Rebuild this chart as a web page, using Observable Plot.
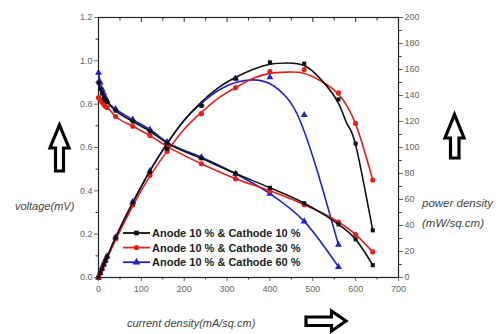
<!DOCTYPE html>
<html>
<head>
<meta charset="utf-8">
<script src="https://cdn.jsdelivr.net/npm/d3@7"></script>
<script src="https://cdn.jsdelivr.net/npm/@observablehq/plot@0.6"></script>
<style>
  html, body { margin: 0; padding: 0; background: #fff; }
  #chart { width: 501px; height: 334px; overflow: hidden; }
</style>
</head>
<body>
<div id="chart"></div>
<script>
// ---- data ----
const seriesNames = ["Anode 10 % & Cathode 10 %", "Anode 10 % & Cathode 30 %", "Anode 10 % & Cathode 60 %"];
const seriesColors = ["#111111", "#e3201b", "#2323c8"];
const seriesSymbols = ["square", "circle", "triangle"];

const currentDensity = [0, 4, 8, 12, 16, 20, 40, 80, 120, 160, 240, 320, 400, 480, 560, 600, 640];
const currentDensityBlue = [0, 4, 8, 12, 16, 20, 40, 80, 120, 160, 240, 320, 400, 480, 560];

const voltageBlack = [0.90, 0.87, 0.85, 0.83, 0.82, 0.81, 0.77, 0.72, 0.675, 0.62, 0.55, 0.48, 0.414, 0.343, 0.245, 0.176, 0.057];
const voltageRed   = [0.83, 0.82, 0.81, 0.80, 0.79, 0.785, 0.743, 0.698, 0.655, 0.605, 0.525, 0.456, 0.40, 0.336, 0.256, 0.198, 0.118];
const voltageBlue  = [0.945, 0.90, 0.87, 0.85, 0.83, 0.815, 0.778, 0.729, 0.683, 0.625, 0.555, 0.479, 0.387, 0.259, 0.049];

const powerBlack = [0, 3.5, 6.8, 10, 13, 16.2, 30.8, 57.6, 81, 99, 132, 153, 165.5, 164.5, 137, 103, 36.3];
const powerRed   = [0, 3.3, 6.5, 9.6, 12.6, 15.7, 29.7, 55.8, 78.6, 97, 126, 146, 158.3, 160, 142, 118.5, 75];
const powerBlue  = [0, 3.7, 7, 10.2, 13.3, 16.3, 31, 58.3, 82, 100, 133, 153, 154, 125, 25.3];

// fitted power curves
const fitCurrentBlack = [0, 40, 80, 120, 160, 200, 240, 280, 320, 360, 400, 440, 480, 520, 560, 580, 600, 640];
const fitPowerBlack   = [0, 31, 58, 82, 103, 121, 135, 146, 154, 160, 164, 165, 163, 152, 134, 118, 102, 36];
const fitCurrentRed   = [0, 40, 80, 120, 160, 200, 240, 280, 320, 360, 400, 440, 480, 520, 560, 600, 640];
const fitPowerRed     = [0, 29, 55, 78, 97, 114, 127, 138, 146, 153, 157, 158, 157, 151, 141, 118, 75];
const fitCurrentBlue  = [0, 40, 80, 120, 160, 200, 240, 280, 320, 360, 400, 440, 470, 500, 530, 560];
const fitPowerBlue    = [0, 30, 57, 82, 103, 121, 134, 144, 150, 152, 149, 138, 121, 93, 60, 25];

const xTicks = [0, 100, 200, 300, 400, 500, 600, 700];
const xMinor = [50, 150, 250, 350, 450, 550, 650];
const yTicks = [0, 0.2, 0.4, 0.6, 0.8, 1.0, 1.2];
const yMinor = [0.1, 0.3, 0.5, 0.7, 0.9, 1.1];
const pTicks = [0, 20, 40, 60, 80, 100, 120, 140, 160, 180, 200];
const pMinor = [10, 30, 50, 70, 90, 110, 130, 150, 170, 190];

// ---- tables ----
const pToY = 1.2 / 200; // right axis (0–200) shares the frame with left axis (0–1.2)
const voltageSets = [voltageBlack, voltageRed, voltageBlue];
const powerSets = [powerBlack, powerRed, powerBlue];
const currentSets = [currentDensity, currentDensity, currentDensityBlue];
const fitSets = [[fitCurrentBlack, fitPowerBlack], [fitCurrentRed, fitPowerRed], [fitCurrentBlue, fitPowerBlue]];

const vRows = [], pRows = [], fRows = [];
seriesNames.forEach((s, i) => {
  currentSets[i].forEach((c, j) => {
    vRows.push({s, i, c, v: voltageSets[i][j]});
    pRows.push({s, i, c, p: powerSets[i][j]});
  });
  fitSets[i][0].forEach((c, j) => fRows.push({s, i, c, p: fitSets[i][1][j]}));
});

const symR = {square: 2.3, circle: 2.6, triangle: 2.6};
const order = [2, 1, 0];
const marks = [];
for (const i of order) {
  const col = seriesColors[i];
  const sym = seriesSymbols[i];
  const vr = vRows.filter(d => d.i === i);
  const pr = pRows.filter(d => d.i === i);
  const fr = fRows.filter(d => d.i === i);
  marks.push(Plot.line(vr, {x: "c", y: "v", stroke: col, strokeWidth: 1.6, curve: "monotone-x"}));
  marks.push(Plot.line(fr, {x: "c", y: d => d.p * pToY, stroke: col, strokeWidth: 1.6, curve: "natural"}));
  marks.push(Plot.dot(vr, {x: "c", y: "v", fill: col, stroke: "none", symbol: sym, r: symR[sym]}));
  marks.push(Plot.dot(pr, {x: "c", y: d => d.p * pToY, fill: col, stroke: "none", symbol: sym, r: symR[sym]}));
}

const chart = Plot.plot({
  width: 501,
  height: 334,
  marginLeft: 98,
  marginRight: 103,
  marginTop: 17,
  marginBottom: 57,
  x: {domain: [0, 700]},
  y: {domain: [0, 1.2]},
  style: {fontFamily: "'Liberation Sans', Arial, sans-serif", fontSize: "9px", color: "#333", background: "#fff", overflow: "visible"},
  marks: [
    Plot.axisX(xTicks, {anchor: "bottom", tickSize: 4, tickPadding: 4, label: null, color: "#666", fontSize: 9}),
    Plot.axisX(xMinor, {anchor: "bottom", tickSize: 2.5, tickFormat: () => "", label: null}),
    Plot.axisX(xTicks, {anchor: "top", tickSize: -4, tickFormat: () => "", label: null}),
    Plot.axisX(xMinor, {anchor: "top", tickSize: -2.5, tickFormat: () => "", label: null}),
    Plot.axisY(yTicks, {anchor: "left", tickSize: 4, tickPadding: 2, tickFormat: d3.format(".1f"), label: null, color: "#666", fontSize: 9}),
    Plot.axisY(yMinor, {anchor: "left", tickSize: 2.5, tickFormat: () => "", label: null}),
    Plot.axisY(pTicks.map(p => p * pToY), {anchor: "right", tickSize: 4, tickPadding: 2, tickFormat: d => String(Math.round(d / pToY)), label: null, color: "#666", fontSize: 9}),
    Plot.axisY(pMinor.map(p => p * pToY), {anchor: "right", tickSize: 2.5, tickFormat: () => "", label: null}),
    Plot.frame({stroke: "#222", strokeWidth: 1.2}),
    ...marks
  ]
});

document.getElementById("chart").appendChild(chart);

// ---- annotations: legend, axis titles, arrows ----
const svg = d3.select(chart);
const g = svg.append("g").attr("text-anchor", "start");

seriesNames.forEach((name, i) => {
  const y = 233 + i * 14.6;
  g.append("line").attr("x1", 123).attr("x2", 150).attr("y1", y).attr("y2", y)
    .attr("stroke", seriesColors[i]).attr("stroke-width", 1.8);
  const sym = d3.symbol().type(i === 0 ? d3.symbolSquare : i === 1 ? d3.symbolCircle : d3.symbolTriangle).size(i === 2 ? 26 : 22);
  g.append("path").attr("d", sym()).attr("transform", `translate(136.5,${y})`).attr("fill", seriesColors[i]);
  g.append("text").attr("x", 152).attr("y", y).attr("dy", "0.36em").attr("text-anchor", "start")
    .attr("font-family", "'Liberation Sans', Arial, sans-serif").attr("font-weight", "bold")
    .attr("font-size", 11).attr("fill", "#222").text(name);
});

const titleFont = "'Liberation Sans', Arial, sans-serif";
function label(x, y, t, size, anchor = "start") {
  g.append("text").attr("x", x).attr("y", y).attr("dy", "0.35em").attr("text-anchor", anchor)
    .attr("font-family", titleFont).attr("font-style", "italic").attr("font-size", size)
    .attr("fill", "#444").text(t);
}
label(15, 206, "voltage(mV)", 11);
label(422, 203, "power density", 11.5);
label(422, 223, "(mW/sq.cm)", 11.5);
label(127, 323, "current density(mA/sq.cm)", 11);

function arrow(points) {
  g.append("polygon").attr("points", points.map(p => p.join(",")).join(" "))
    .attr("fill", "#fff").attr("stroke", "#000").attr("stroke-width", 3.2).attr("stroke-linejoin", "miter");
}
// left up arrow
arrow([[59.5, 125], [69, 148], [63.5, 148], [63.5, 171], [55.5, 171], [55.5, 148], [50, 148]]);
// right up arrow
arrow([[454.5, 114.5], [464, 138], [459, 138], [459, 158], [450.5, 158], [450.5, 138], [445, 138]]);
// right arrow
arrow([[346, 321], [331.5, 331], [331.5, 325.5], [306, 325.5], [306, 317], [331.5, 317], [331.5, 311]]);
</script>
</body>
</html>
